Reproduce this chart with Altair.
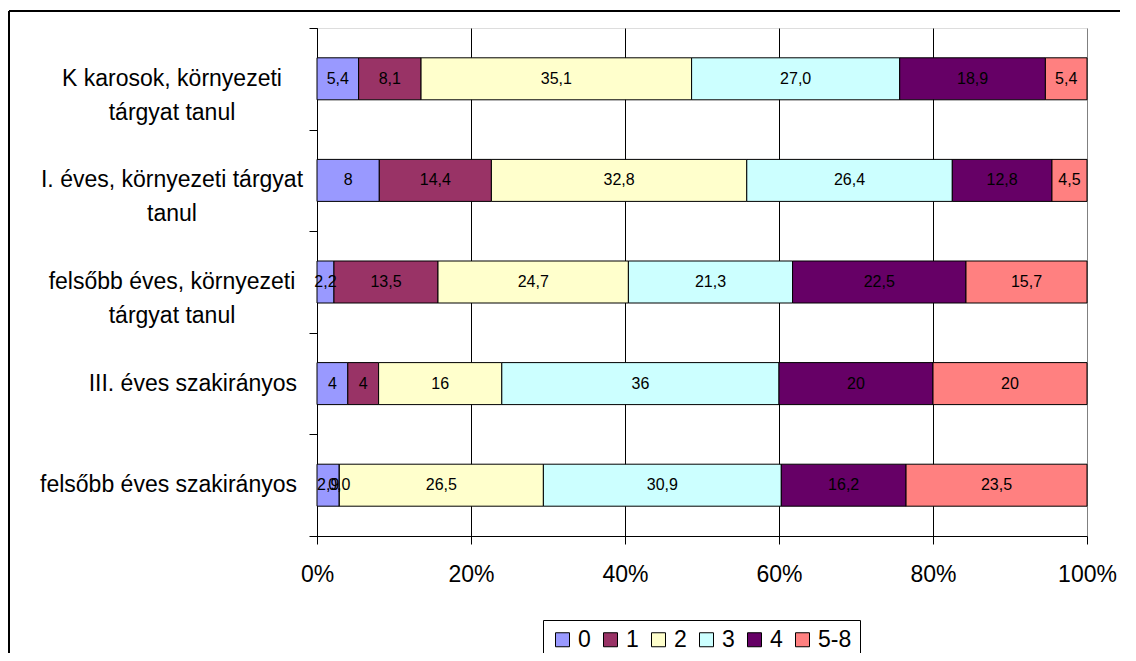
import altair as alt
import pandas as pd

# ---- data ----
categories = [
    "K karosok, környezeti|tárgyat tanul",
    "I. éves, környezeti tárgyat|tanul",
    "felsőbb éves, környezeti|tárgyat tanul",
    "III. éves szakirányos",
    "felsőbb éves szakirányos",
]
groups = ["0", "1", "2", "3", "4", "5-8"]
colors = ["#9999FF", "#993366", "#FFFFCC", "#CCFFFF", "#660066", "#FF8080"]

k_karosok = [5.4, 8.1, 35.1, 27.0, 18.9, 5.4]
i_eves = [8, 14.4, 32.8, 26.4, 12.8, 4.5]
felsobb_korny = [2.2, 13.5, 24.7, 21.3, 22.5, 15.7]
iii_szak = [4, 4, 16, 36, 20, 20]
felsobb_szak = [2.9, 0.0, 26.5, 30.9, 16.2, 23.5]
rows = [k_karosok, i_eves, felsobb_korny, iii_szak, felsobb_szak]

records = []
for cat, vals in zip(categories, rows):
    for gi, (g, v) in enumerate(zip(groups, vals)):
        records.append({"cat": cat, "group": g, "order": gi, "value": float(v),
                        "label": str(v).replace(".", ",")})
df = pd.DataFrame(records)

FONT = "Liberation Sans"

y_scale = alt.Scale(domain=categories, paddingInner=0, paddingOuter=0)
y_enc = alt.Y(
    "cat:N", sort=categories, title=None, scale=y_scale,
    axis=alt.Axis(
        labels=False, tickBand="extent", tickSize=8, tickColor="black",
        domainColor="black", grid=False,
    ),
)

base = alt.Chart(df).transform_stack(
    stack="value", groupby=["cat"], as_=["s0", "s1"], offset="normalize",
    sort=[alt.SortField("order", order="ascending")],
).transform_calculate(mid="(datum.s0 + datum.s1) / 2")

x_axis = alt.Axis(
    format="%", values=[0, 0.2, 0.4, 0.6, 0.8, 1.0], title=None, orient="bottom",
    grid=True, gridWidth=1,
    gridColor={"condition": {"test": "datum.value >= 1", "value": "#808080"}, "value": "black"},
    tickSize=8, tickColor="black", domainColor="black",
    labelFont=FONT, labelFontSize=23, labelColor="black", labelPadding=19,
    labelFlush=False, labelOverlap=False,
)

bars = base.mark_bar(size=42, stroke="black", strokeWidth=1).encode(
    x=alt.X("s0:Q", scale=alt.Scale(domain=[0, 1], nice=False), axis=x_axis),
    x2="s1:Q",
    y=y_enc,
    color=alt.Color(
        "group:N",
        scale=alt.Scale(domain=groups, range=colors),
        legend=alt.Legend(
            orient="none", legendX=226, legendY=592, direction="horizontal",
            title=None, strokeColor="black", fillColor="white", padding=8,
            symbolType="square", symbolSize=196, symbolStrokeColor="black",
            symbolStrokeWidth=1, symbolOpacity=1,
            labelFont=FONT, labelFontSize=23, labelColor="black",
            labelOffset=4, columnPadding=8,
        ),
    ),
)

labels = base.mark_text(font=FONT, fontSize=16, color="black", baseline="middle", align="center").encode(
    x="mid:Q",
    y=alt.Y("cat:N", sort=categories),
    text="label:N",
)

# category labels (drawn as text so multi-line ones can be centred like the original)
cat_base = alt.Chart(df).transform_filter("datum.order == 0").transform_calculate(
    lines="split(datum.cat, '|')", multi="indexof(datum.cat, '|') >= 0"
)
cat_single = cat_base.transform_filter("!datum.multi").mark_text(
    font=FONT, fontSize=23, color="black", align="right", baseline="middle"
).encode(x=alt.value(-20), y=alt.Y("cat:N", sort=categories), text="lines:N")
cat_multi = cat_base.transform_filter("datum.multi").mark_text(
    font=FONT, fontSize=23, color="black", align="center", baseline="middle", lineHeight=34
).encode(x=alt.value(-145), y=alt.Y("cat:N", sort=categories), text="lines:N")

# outer chart frame (top and left edges; the others lie outside the picture)
frame_src = alt.Chart(df).transform_aggregate(n="count()")
frame_top = frame_src.mark_rule(color="black", strokeWidth=2).encode(
    x=alt.value(-308), x2=alt.value(1000), y=alt.value(-17)
)
frame_left = frame_src.mark_rule(color="black", strokeWidth=2).encode(
    x=alt.value(-308), y=alt.value(-17), y2=alt.value(800)
)

chart = alt.layer(bars, labels, cat_single, cat_multi, frame_top, frame_left).properties(
    width=770, height=508, autosize="none",
    padding={"left": 309, "top": 20, "right": 33, "bottom": 117},
).configure_view(fill="#C0C0C0", stroke="#808080").configure(background="white")

chart.save("out.html", embed_options={"renderer": "svg", "actions": False})
